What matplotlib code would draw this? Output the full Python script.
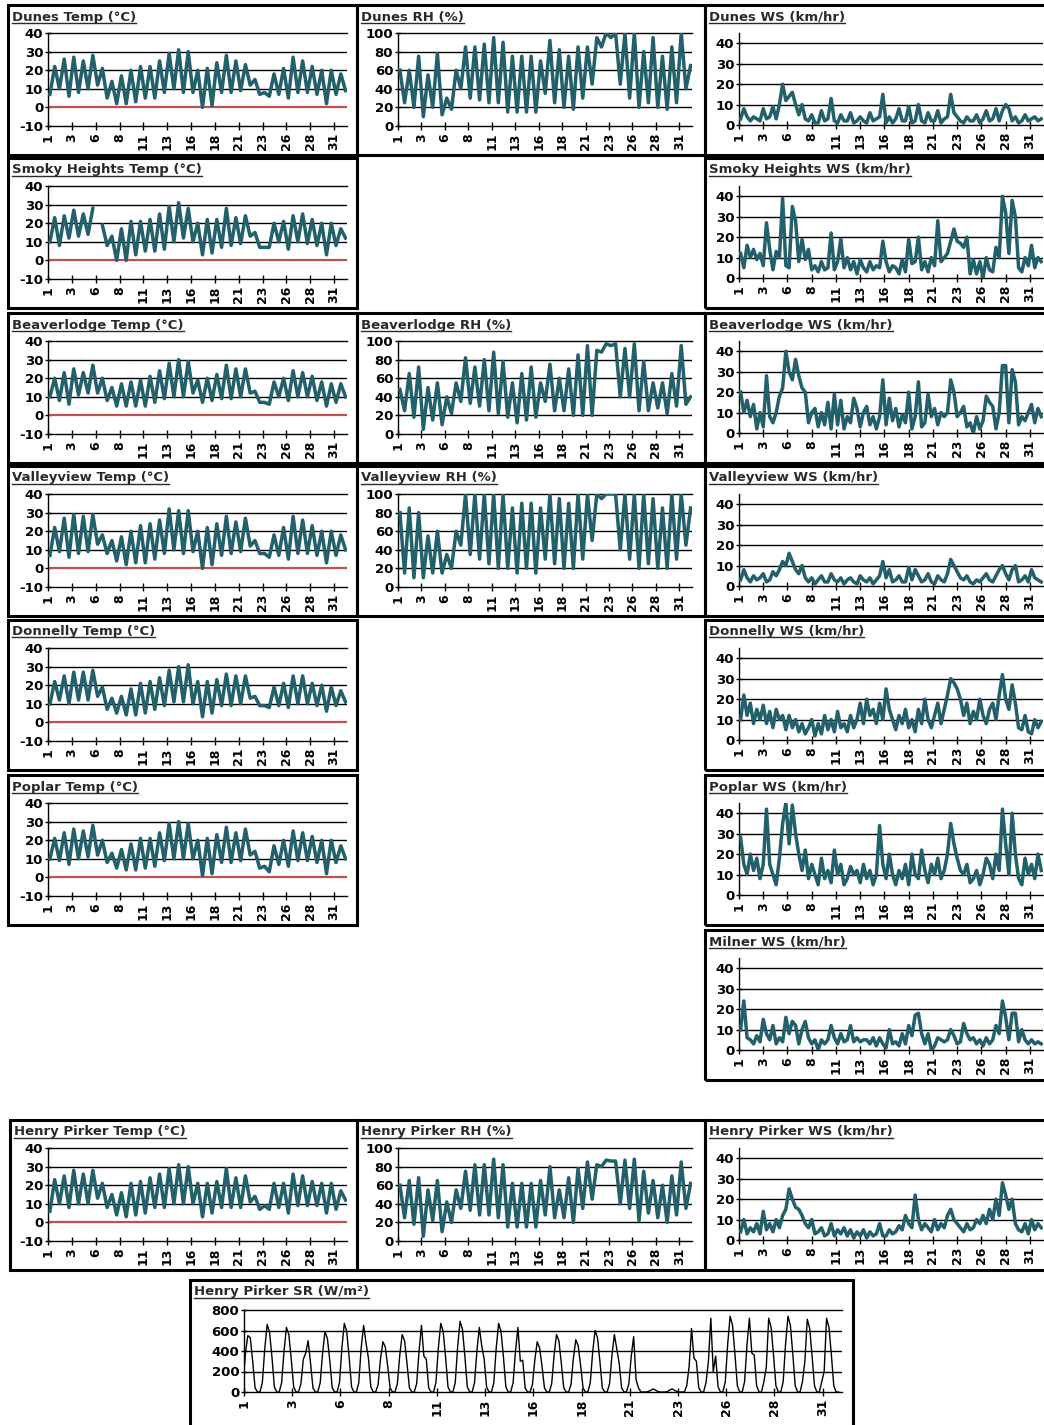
import matplotlib
matplotlib.use('Agg')
import matplotlib.pyplot as plt
import numpy as np
from matplotlib.patches import Rectangle
from matplotlib.lines import Line2D

W, H = 1044, 1425
TEAL = '#22606b'
RED = '#c0504d'

tick_pos = np.arange(0, 31, 2.5)
tick_lab = ['1', '3', '6', '8', '11', '13', '16', '18', '21', '23', '26', '28', '31']
nan = np.nan

# ---- temperature: daily lows (32) and highs (31) ----
dunes_lo = [7, 10, 6, 8, 10, 12, 5, 2, 2, 3, 5, 5, 8, 10, 8, 8, 0, 1, 8, 8, 9, 12, 7, 6, 7, 5, 8, 8, 7, 2, 7, 9]
dunes_hi = [22, 26, 27, 25, 28, 21, 14, 17, 20, 22, 22, 25, 29, 31, 30, 20, 21, 24, 28, 25, 23, 15, 8, 18, 21, 27, 25, 22, 20, 20, 18]
smoky_lo = [10, 8, 12, 13, 14, nan, 8, 0, 0, 3, 5, 5, 6, 10, 12, 10, 3, 4, 7, 8, 9, 13, 7, 7, 10, 6, 10, 9, 8, 3, 8, 12]
smoky_hi = [23, 24, 27, 25, 28, 19, 13, 17, 21, 21, 22, 25, 29, 31, 28, 20, 22, 22, 28, 23, 24, 15, 7, 20, 21, 24, 25, 22, 20, 20, 17]
beaver_lo = [10, 8, 6, 11, 12, 12, 8, 5, 5, 5, 5, 7, 9, 10, 10, 12, 7, 8, 9, 9, 10, 12, 7, 6, 10, 8, 10, 10, 8, 5, 7, 10]
beaver_hi = [20, 23, 25, 23, 27, 20, 15, 17, 18, 19, 21, 24, 28, 30, 29, 19, 20, 22, 27, 25, 25, 13, 7, 18, 20, 24, 23, 21, 18, 17, 17]
valley_lo = [7, 9, 6, 8, 9, 13, 8, 4, 2, 3, 3, 5, 8, 10, 8, 9, 0, 2, 7, 8, 9, 12, 8, 6, 7, 5, 8, 8, 7, 3, 7, 10]
valley_hi = [22, 27, 29, 28, 29, 18, 15, 17, 20, 23, 24, 26, 32, 31, 31, 20, 22, 24, 28, 25, 27, 15, 8, 18, 22, 28, 26, 23, 20, 20, 18]
donnel_lo = [10, 12, 10, 12, 12, 14, 7, 5, 4, 4, 5, 7, 9, 11, 11, 10, 3, 5, 9, 9, 10, 13, 9, 8, 9, 8, 10, 10, 9, 6, 9, 11]
donnel_hi = [22, 25, 27, 27, 28, 19, 13, 14, 18, 21, 22, 24, 28, 30, 31, 22, 22, 23, 26, 25, 25, 14, 9, 19, 21, 25, 25, 21, 20, 19, 17]
poplar_lo = [10, 9, 7, 10, 11, 12, 8, 5, 4, 4, 5, 6, 9, 10, 10, 10, 1, 2, 8, 8, 9, 12, 5, 3, 7, 6, 9, 9, 8, 2, 8, 10]
poplar_hi = [21, 24, 26, 25, 28, 20, 13, 15, 18, 21, 21, 24, 29, 30, 29, 20, 21, 23, 27, 24, 26, 14, 6, 17, 20, 25, 24, 22, 20, 20, 17]
henry_lo = [6, 10, 8, 10, 10, 13, 8, 4, 3, 4, 5, 8, 8, 10, 10, 10, 3, 5, 8, 8, 8, 11, 7, 7, 8, 5, 9, 9, 9, 5, 7, 12]
henry_hi = [23, 25, 28, 26, 28, 21, 15, 16, 21, 22, 24, 26, 29, 31, 30, 21, 21, 22, 29, 24, 25, 14, 9, 21, 21, 26, 25, 22, 21, 21, 17]

# ---- relative humidity: morning max (32) and afternoon min (31) ----
dunes_rh_mx = [60, 60, 75, 55, 78, 30, 60, 85, 85, 88, 95, 90, 75, 75, 75, 70, 92, 82, 75, 85, 85, 95, 100, 100, 100, 100, 80, 95, 75, 85, 100, 65]
dunes_rh_mn = [25, 20, 10, 20, 12, 18, 40, 30, 28, 25, 25, 15, 15, 15, 15, 35, 25, 20, 18, 30, 45, 85, 95, 45, 30, 20, 25, 20, 18, 25, 40]
beaver_rh_mx = [48, 65, 72, 50, 55, 40, 55, 82, 72, 80, 88, 78, 55, 65, 72, 55, 75, 60, 70, 85, 95, 90, 97, 97, 92, 97, 78, 55, 55, 65, 95, 40]
beaver_rh_mn = [25, 18, 5, 15, 10, 22, 35, 33, 30, 25, 22, 18, 12, 15, 18, 35, 25, 25, 20, 20, 20, 88, 95, 40, 40, 25, 25, 28, 22, 30, 32]
valley_rh_mx = [80, 85, 80, 55, 60, 35, 60, 100, 100, 100, 100, 100, 85, 90, 90, 85, 100, 95, 90, 100, 100, 100, 100, 100, 100, 100, 100, 95, 85, 100, 100, 85]
valley_rh_mn = [15, 10, 10, 15, 15, 20, 45, 35, 30, 25, 20, 20, 15, 20, 15, 30, 25, 20, 20, 30, 50, 95, 100, 40, 30, 20, 25, 20, 20, 30, 45]
henry_rh_mx = [60, 65, 68, 55, 65, 42, 55, 75, 82, 82, 88, 82, 62, 62, 62, 65, 80, 55, 68, 78, 85, 82, 87, 86, 87, 88, 75, 65, 60, 70, 85, 62]
henry_rh_mn = [25, 18, 5, 22, 10, 20, 35, 33, 28, 28, 25, 15, 15, 15, 15, 28, 25, 25, 20, 35, 45, 80, 86, 40, 35, 22, 30, 25, 20, 28, 35]

# ---- wind speed: three readings per day ----
dunes_ws = [3, 8, 4, 2, 4, 3, 2, 8, 3, 4, 9, 3, 10, 20, 12, 14, 16, 10, 5, 10, 3, 2, 5, 1,
            1, 7, 2, 3, 13, 2, 1, 5, 2, 2, 6, 1, 2, 4, 2, 1, 6, 2, 3, 4, 15, 1, 4, 1,
            3, 8, 2, 2, 9, 1, 2, 10, 2, 1, 6, 2, 2, 7, 1, 3, 4, 15, 6, 4, 2, 1, 4, 2,
            2, 5, 1, 3, 7, 2, 3, 8, 2, 7, 10, 8, 2, 4, 1, 2, 5, 2, 3, 4, 2, 3]
smoky_ws = [12, 5, 16, 10, 14, 9, 12, 6, 27, 14, 4, 13, 10, 39, 6, 5, 35, 28, 8, 19, 9, 14, 4, 6,
            3, 8, 4, 5, 22, 4, 8, 19, 5, 10, 4, 8, 2, 9, 5, 3, 8, 4, 6, 5, 18, 8, 3, 6,
            5, 2, 9, 3, 19, 7, 8, 20, 4, 8, 3, 10, 6, 28, 8, 10, 12, 18, 24, 18, 17, 15, 20, 2,
            9, 2, 8, 0, 10, 4, 3, 15, 10, 40, 32, 12, 38, 30, 5, 3, 10, 6, 16, 5, 10, 8]
beaver_ws = [20, 10, 16, 8, 14, 2, 10, 3, 28, 8, 5, 10, 18, 22, 40, 30, 26, 36, 28, 22, 20, 5, 10, 12,
             3, 10, 4, 15, 2, 19, 4, 16, 2, 8, 5, 17, 12, 3, 10, 13, 4, 8, 2, 8, 26, 4, 17, 6,
             12, 3, 9, 5, 20, 2, 8, 25, 3, 5, 19, 8, 12, 4, 10, 8, 10, 26, 20, 8, 10, 13, 3, 5,
             0, 8, 2, 6, 18, 15, 13, 2, 10, 33, 33, 5, 31, 25, 4, 8, 6, 10, 14, 5, 12, 8]
valley_ws = [3, 8, 4, 2, 5, 3, 4, 6, 2, 3, 7, 5, 8, 12, 10, 16, 12, 8, 6, 10, 4, 2, 4, 1,
             3, 5, 2, 2, 6, 3, 2, 4, 1, 3, 4, 2, 1, 5, 3, 2, 4, 1, 3, 5, 12, 4, 8, 2,
             3, 5, 2, 2, 9, 3, 8, 5, 2, 3, 6, 2, 1, 5, 3, 2, 6, 13, 10, 7, 4, 3, 5, 2,
             1, 3, 2, 4, 6, 3, 2, 5, 8, 10, 6, 3, 8, 10, 2, 3, 5, 2, 8, 4, 3, 2]
donnel_ws = [10, 22, 12, 18, 8, 15, 10, 17, 8, 14, 6, 15, 10, 12, 5, 12, 6, 10, 4, 8, 3, 6, 10, 2,
             8, 3, 12, 5, 10, 4, 14, 6, 8, 4, 12, 6, 10, 18, 8, 20, 12, 15, 8, 18, 10, 25, 15, 10,
             5, 12, 8, 15, 6, 10, 4, 15, 8, 20, 10, 6, 12, 18, 8, 15, 22, 30, 28, 25, 20, 12, 18, 8,
             14, 10, 20, 12, 8, 15, 18, 10, 22, 32, 20, 15, 27, 18, 6, 5, 12, 4, 3, 10, 6, 9]
poplar_ws = [28, 15, 10, 20, 12, 18, 8, 15, 42, 15, 10, 5, 18, 35, 45, 25, 44, 30, 20, 12, 22, 8, 15, 10,
             5, 18, 8, 12, 6, 22, 10, 15, 5, 8, 14, 10, 12, 6, 15, 8, 12, 5, 10, 34, 15, 8, 20, 10,
             5, 12, 8, 15, 5, 20, 10, 8, 22, 12, 6, 15, 10, 18, 8, 12, 20, 35, 25, 18, 12, 10, 15, 6,
             8, 12, 5, 10, 18, 15, 8, 20, 12, 42, 25, 10, 40, 20, 8, 5, 18, 10, 15, 8, 20, 12]
milner_ws = [10, 24, 6, 5, 3, 7, 4, 15, 8, 5, 12, 3, 6, 4, 16, 8, 14, 12, 3, 10, 14, 6, 3, 5,
             0, 5, 3, 5, 12, 6, 3, 8, 4, 5, 12, 4, 6, 4, 5, 5, 3, 6, 2, 6, 3, 1, 10, 3,
             4, 2, 8, 3, 12, 7, 17, 18, 8, 3, 8, 0, 2, 6, 5, 4, 5, 10, 7, 3, 4, 13, 8, 5,
             6, 3, 5, 2, 6, 3, 5, 12, 8, 24, 16, 5, 18, 18, 4, 10, 5, 3, 5, 3, 4, 3]
henry_ws = [4, 10, 3, 6, 4, 8, 3, 14, 5, 8, 4, 10, 6, 12, 15, 25, 20, 16, 15, 12, 8, 6, 10, 3,
            4, 6, 2, 3, 8, 2, 5, 3, 6, 2, 5, 1, 4, 2, 5, 1, 4, 2, 3, 8, 2, 2, 5, 3,
            4, 7, 5, 12, 8, 6, 22, 10, 5, 8, 6, 4, 10, 5, 8, 6, 12, 15, 10, 8, 6, 4, 8, 5,
            6, 10, 8, 12, 8, 15, 10, 20, 12, 28, 22, 15, 20, 8, 5, 4, 8, 3, 10, 5, 8, 6]

# ---- Henry Pirker solar radiation, every 3 hours ----
henry_sr = [
    [0, 0, 80, 380, 550, 530, 300, 40], [0, 0, 90, 420, 660, 580, 340, 50],
    [0, 0, 90, 400, 630, 560, 320, 50], [0, 0, 80, 320, 380, 500, 280, 40],
    [0, 0, 90, 380, 590, 520, 300, 40], [0, 0, 90, 430, 670, 590, 340, 50],
    [0, 0, 90, 430, 650, 480, 330, 50], [0, 0, 70, 320, 490, 440, 250, 40],
    [0, 0, 80, 360, 560, 500, 280, 40], [0, 0, 80, 400, 650, 350, 320, 40],
    [0, 0, 90, 430, 670, 590, 340, 50], [0, 0, 90, 440, 690, 610, 350, 50],
    [0, 0, 90, 400, 630, 450, 320, 50], [0, 0, 90, 430, 670, 590, 340, 50],
    [0, 0, 90, 400, 630, 300, 310, 40], [0, 0, 70, 310, 490, 430, 250, 40],
    [0, 0, 80, 360, 560, 500, 280, 40], [0, 0, 70, 330, 510, 450, 260, 40],
    [0, 0, 90, 390, 600, 530, 300, 40], [0, 0, 80, 360, 560, 420, 280, 40],
    [0, 0, 80, 350, 540, 120, 40, 0], [0, 0, 5, 15, 30, 20, 5, 0],
    [0, 0, 5, 20, 30, 15, 5, 0], [0, 0, 60, 250, 620, 330, 300, 40],
    [0, 0, 90, 300, 720, 200, 350, 50], [0, 0, 100, 470, 740, 650, 370, 60],
    [0, 0, 100, 460, 720, 380, 360, 60], [0, 0, 100, 240, 720, 630, 360, 60],
    [0, 0, 100, 470, 740, 650, 370, 60], [0, 0, 100, 300, 710, 620, 350, 60],
    [0, 0, 100, 200, 720, 630, 360, 60], [0, 0],
]


def interleave(a, b):
    out = []
    for i in range(len(a)):
        out.append(a[i])
        if i < len(b):
            out.append(b[i])
    return np.array(out, dtype=float)


fig = plt.figure(figsize=(W / 100, H / 100), dpi=100)


def fx(px):
    return px / W


def fy(py):
    return 1 - py / H


titles = []


def box(x0, y0, x1, y1):
    fig.patches.append(Rectangle((fx(x0), fy(y1)), fx(x1) - fx(x0), fy(y0) - fy(y1),
                                 transform=fig.transFigure, fill=False, lw=2.2,
                                 ec='black', figure=fig))


def panel(bx0, by0, bx1, axl, axr, kind, title, y, top=None, bot=None, xstep=0.5, x0=0.2,
          color=TEAL, lw=2.5, xmax=31.35):
    box(bx0, by0, bx1, by0 + 150)
    t = fig.text(fx(bx0 + 4), fy(by0 + 12), title, ha='left', va='center',
                 fontsize=9.5, fontweight='bold', color='#2a2a2a')
    titles.append(t)
    if top is None:
        top = by0 + 28
    if bot is None:
        bot = by0 + (120 if kind == 'ws' else 121)
    ax = fig.add_axes([fx(axl), fy(bot), fx(axr) - fx(axl), fy(top) - fy(bot)])
    x = x0 + xstep * np.arange(len(y))
    ax.plot(x, y, color=color, lw=lw, solid_joinstyle='round', zorder=3)
    if kind == 'temp':
        ax.set_ylim(-10, 40)
        ax.set_yticks(range(-10, 41, 10))
        ax.axhline(0, color=RED, lw=1.6, zorder=2)
        grid = [10, 20, 30]
    elif kind == 'rh':
        ax.set_ylim(0, 100)
        ax.set_yticks(range(0, 101, 20))
        grid = [20, 40, 60, 80]
    elif kind == 'ws':
        ax.set_ylim(0, 45)
        ax.set_yticks(range(0, 41, 10))
        grid = [10, 20, 30, 40]
    else:
        ax.set_ylim(0, 800)
        ax.set_yticks(range(0, 801, 200))
        grid = [200, 400, 600]
    for g in grid:
        ax.axhline(g, color='black', lw=1.0, zorder=1)
    ax.set_xlim(0, xmax)
    ax.set_xticks(tick_pos)
    ax.set_xticklabels(tick_lab, rotation=90, fontsize=9, fontweight='bold',
                       va='top', ha='center')
    ax.set_yticklabels([str(v) for v in ax.get_yticks().astype(int)],
                       fontsize=9.5, fontweight='bold')
    ax.tick_params(axis='x', direction='inout', length=6, width=1, pad=2)
    ax.tick_params(axis='y', direction='inout', length=5, width=1, pad=1)
    ax.spines['right'].set_visible(False)
    ax.spines['top'].set_visible(kind != 'ws')
    for s in ['left', 'bottom', 'top']:
        ax.spines[s].set_color('black')
        ax.spines[s].set_linewidth(1.0)
    ax.set_facecolor('none')
    return ax


C1 = (8, 357, 48, 347)
C2 = (357, 705, 398, 692)
C3 = (705, 1050, 739, 1043)
rows = [5, 158, 313, 466, 620, 775, 930]


def temp_panel(col, top, title, lo, hi):
    panel(col[0], top, col[1], col[2], col[3], 'temp', title, interleave(lo, hi))


def rh_panel(col, top, title, mx, mn):
    panel(col[0], top, col[1], col[2], col[3], 'rh', title, interleave(mx, mn))


def ws_panel(col, top, title, ws):
    panel(col[0], top, col[1], col[2], col[3], 'ws', title, np.array(ws, dtype=float),
          xstep=1 / 3, x0=1 / 6)


temp_panel(C1, rows[0], 'Dunes Temp (°C)', dunes_lo, dunes_hi)
rh_panel(C2, rows[0], 'Dunes RH (%)', dunes_rh_mx, dunes_rh_mn)
ws_panel(C3, rows[0], 'Dunes WS (km/hr)', dunes_ws)

temp_panel(C1, rows[1], 'Smoky Heights Temp (°C)', smoky_lo, smoky_hi)
ws_panel(C3, rows[1], 'Smoky Heights WS (km/hr)', smoky_ws)

temp_panel(C1, rows[2], 'Beaverlodge Temp (°C)', beaver_lo, beaver_hi)
rh_panel(C2, rows[2], 'Beaverlodge RH (%)', beaver_rh_mx, beaver_rh_mn)
ws_panel(C3, rows[2], 'Beaverlodge WS (km/hr)', beaver_ws)

temp_panel(C1, rows[3], 'Valleyview Temp (°C)', valley_lo, valley_hi)
rh_panel(C2, rows[3], 'Valleyview RH (%)', valley_rh_mx, valley_rh_mn)
ws_panel(C3, rows[3], 'Valleyview WS (km/hr)', valley_ws)

temp_panel(C1, rows[4], 'Donnelly Temp (°C)', donnel_lo, donnel_hi)
ws_panel(C3, rows[4], 'Donnelly WS (km/hr)', donnel_ws)

temp_panel(C1, rows[5], 'Poplar Temp (°C)', poplar_lo, poplar_hi)
ws_panel(C3, rows[5], 'Poplar WS (km/hr)', poplar_ws)

ws_panel(C3, rows[6], 'Milner WS (km/hr)', milner_ws)

HP = 1120
temp_panel((10, 357, 48, 347), HP, 'Henry Pirker Temp (°C)', henry_lo, henry_hi)
rh_panel(C2, HP, 'Henry Pirker RH (%)', henry_rh_mx, henry_rh_mn)
ws_panel(C3, HP, 'Henry Pirker WS (km/hr)', henry_ws)

sr = np.array([v for day in henry_sr for v in day], dtype=float)
panel(190, 1280, 853, 244, 842, 'sr', 'Henry Pirker SR (W/m²)', sr,
      top=1310, bot=1392, xstep=0.125, x0=-0.3, color='black', lw=1.0, xmax=31.0)

# underline the panel titles
fig.canvas.draw()
for t in titles:
    bb = t.get_window_extent()
    fig.add_artist(Line2D([bb.x0 / W, bb.x1 / W], [(bb.y0 + 1) / H] * 2,
                          transform=fig.transFigure, color='#2a2a2a', lw=1.0))

fig.savefig('out.png', dpi=100)
